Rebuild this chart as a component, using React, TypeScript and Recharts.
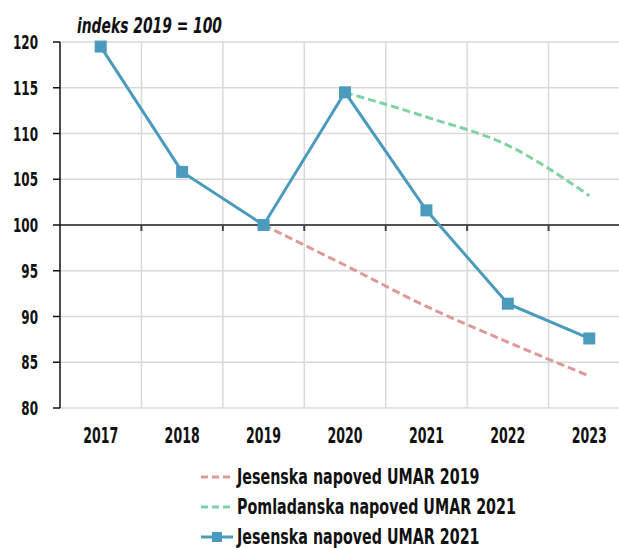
import {
  CartesianGrid,
  Legend,
  Line,
  LineChart,
  ReferenceLine,
  XAxis,
  YAxis
} from "recharts";

const years = ["2017", "2018", "2019", "2020", "2021", "2022", "2023"];
const jesenska2019 = [null, null, 100, 95.6, 91.1, 87.2, 83.5];
const pomladanska2021 = [null, null, null, 114.5, 111.8, 108.7, 103.2];
const jesenska2021 = [119.5, 105.8, 100, 114.5, 101.6, 91.4, 87.6];
const yTicks = [80, 85, 90, 95, 100, 105, 110, 115, 120];

const seriesNames = [
  "Jesenska napoved UMAR 2019",
  "Pomladanska napoved UMAR 2021",
  "Jesenska napoved UMAR 2021"
];

const RED = "#de9a96";
const GREEN = "#7fd3a2";
const BLUE = "#4b9bbd";
const FONT = "'DejaVu Sans', sans-serif";

const PLOT_WIDTH = 570;
const HALF_BAND = PLOT_WIDTH / years.length / 2;

const data = years.map((year, i) => ({
  year,
  j19: jesenska2019[i],
  p21: pomladanska2021[i],
  j21: jesenska2021[i]
}));

const legendItems = [
  { label: seriesNames[0], color: RED, dashed: true },
  { label: seriesNames[1], color: GREEN, dashed: true },
  { label: seriesNames[2], color: BLUE, dashed: false }
];

// the original uses a condensed face, so squeeze DejaVu horizontally
function NarrowTick(props: {
  x?: number;
  y?: number;
  payload?: { value: string | number };
  anchor: "middle" | "end";
  squeeze: number;
  size: number;
  dy: string;
}) {
  const { x = 0, y = 0, payload, anchor, squeeze, size, dy } = props;
  return (
    <g transform={`translate(${x},${y}) scale(${squeeze},1)`}>
      <text
        x={0}
        y={0}
        dy={dy}
        textAnchor={anchor}
        fill="#111"
        fontFamily={FONT}
        fontWeight="bold"
        fontSize={size}
      >
        {payload?.value}
      </text>
    </g>
  );
}

function ChartLegend() {
  return (
    <div
      style={{
        paddingTop: 10,
        paddingLeft: 200,
        fontFamily: FONT,
        fontWeight: "bold",
        fontSize: 21,
        color: "#111"
      }}
    >
      {legendItems.map((item) => (
        <div key={item.label} style={{ height: 30, display: "flex", alignItems: "center", whiteSpace: "nowrap" }}>
          <svg width={34} height={14} style={{ marginRight: 3, flex: "none" }}>
            <line
              x1={1}
              y1={7}
              x2={33}
              y2={7}
              stroke={item.color}
              strokeWidth={3}
              strokeDasharray={item.dashed ? "7 4" : undefined}
            />
            {!item.dashed ? <rect x={12} y={2} width={10} height={10} fill={item.color} /> : null}
          </svg>
          <span style={{ display: "inline-block", transform: "scaleX(0.68)", transformOrigin: "left center" }}>
            {item.label}
          </span>
        </div>
      ))}
    </div>
  );
}

function BaseLine(props: { x1?: number; y1?: number; x2?: number; y2?: number }) {
  const { x1 = 0, y1 = 0, x2 = 0 } = props;
  const step = (x2 - x1) / years.length;
  const ticks = years.slice(1).map((_, i) => x1 + step * (i + 1));
  return (
    <g>
      <line x1={x1} y1={y1} x2={x2} y2={y1} stroke="#222" strokeWidth={1.5} />
      {ticks.map((x) => (
        <line key={x} x1={x} y1={y1} x2={x} y2={y1 + 6} stroke="#444" strokeWidth={2} />
      ))}
    </g>
  );
}

const square = (props: { cx?: number; cy?: number; index?: number }) => {
  const { cx, cy, index } = props;
  if (cx == null || cy == null) return <g key={index} />;
  return <rect key={index} x={cx - 6} y={cy - 6} width={12} height={12} fill={BLUE} />;
};

export default function App() {
  return (
    <div style={{ position: "fixed", left: 0, top: 0, width: 619, height: 548, overflow: "hidden", background: "#fff" }}>
      <div
        style={{
          position: "absolute",
          left: 77,
          top: 14,
          fontFamily: FONT,
          fontStyle: "italic",
          fontWeight: "bold",
          fontSize: 21,
          lineHeight: "24px",
          color: "#111",
          whiteSpace: "nowrap",
          transform: "scaleX(0.66)",
          transformOrigin: "left center",
          zIndex: 1
        }}
      >
        indeks 2019 = 100
      </div>
      <LineChart width={60 + PLOT_WIDTH} height={548} data={data} margin={{ top: 42, right: 0, bottom: 0, left: 0 }}>
        <CartesianGrid
          stroke="#d9d9d9"
          strokeWidth={1.5}
          verticalCoordinatesGenerator={({ offset }: { offset: { left: number; width: number } }) =>
            years.map((_, i) => offset.left + (offset.width / years.length) * (i + 1))
          }
        />
        <XAxis
          dataKey="year"
          axisLine={false}
          tickLine={false}
          tickSize={0}
          tickMargin={20}
          height={44}
          interval={0}
          padding={{ left: HALF_BAND, right: HALF_BAND }}
          tick={<NarrowTick anchor="middle" squeeze={0.6} size={21} dy="0.71em" />}
        />
        <YAxis
          domain={[80, 120]}
          ticks={yTicks}
          width={60}
          interval={0}
          axisLine={{ stroke: "#111", strokeWidth: 1.5 }}
          tickLine={{ stroke: "#111", strokeWidth: 1.5 }}
          tickSize={7}
          tickMargin={15}
          tick={<NarrowTick anchor="end" squeeze={0.6} size={20} dy="0.36em" />}
        />
        <ReferenceLine y={100} shape={<BaseLine />} />
        <Legend verticalAlign="bottom" height={96} content={<ChartLegend />} />
        <Line
          type="monotone"
          dataKey="j19"
          name={seriesNames[0]}
          stroke={RED}
          strokeWidth={3}
          strokeDasharray="8 4"
          dot={false}
          isAnimationActive={false}
        />
        <Line
          type="monotone"
          dataKey="p21"
          name={seriesNames[1]}
          stroke={GREEN}
          strokeWidth={3}
          strokeDasharray="8 4"
          dot={false}
          isAnimationActive={false}
        />
        <Line
          type="linear"
          dataKey="j21"
          name={seriesNames[2]}
          stroke={BLUE}
          strokeWidth={3}
          dot={square}
          isAnimationActive={false}
        />
      </LineChart>
    </div>
  );
}
